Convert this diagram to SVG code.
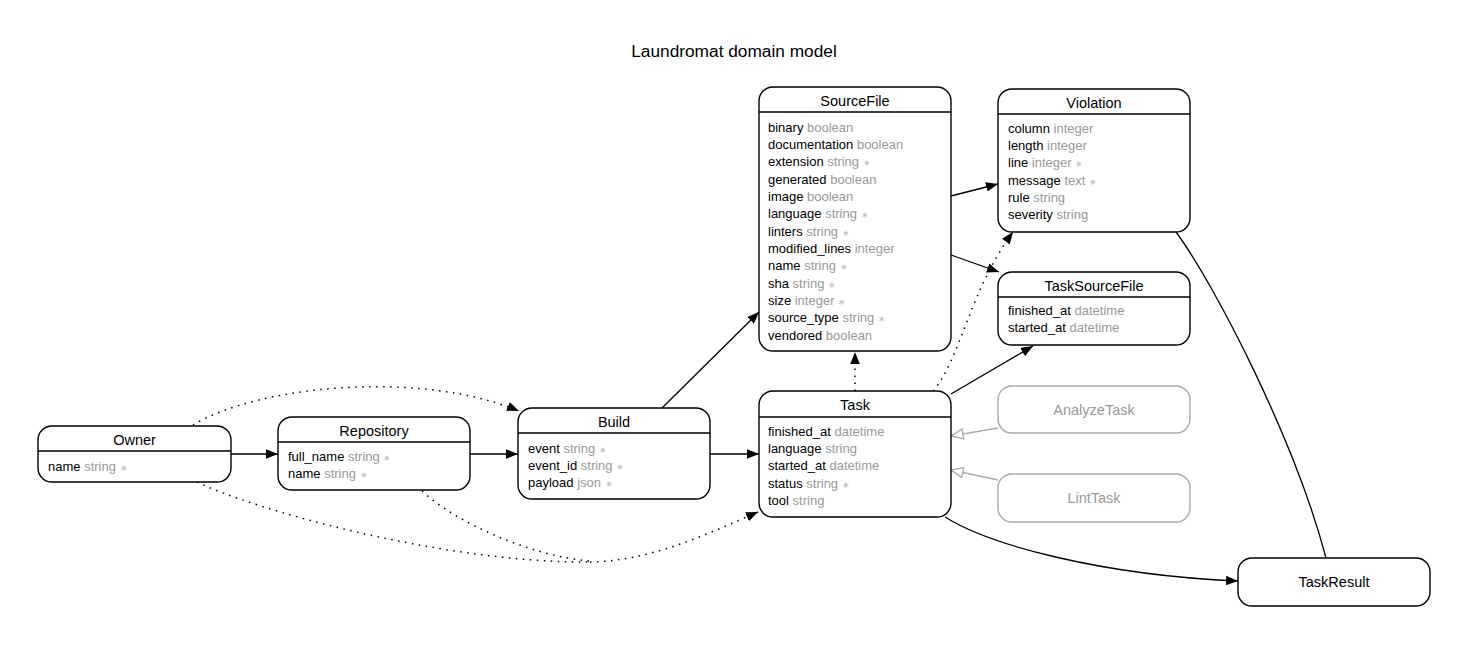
<svg xmlns="http://www.w3.org/2000/svg" width="1469" height="645" viewBox="0 0 1469 645">
<style>
text{font-family:"Liberation Sans",Arial,sans-serif;}
.box{fill:#fff;stroke:#000;stroke-width:1.4;}
.gbox{fill:#fff;stroke:#aaa;stroke-width:1.4;}
.sep{stroke:#000;stroke-width:1.4;}
.title{font-size:14.5px;fill:#000;text-anchor:middle;}
.gtitle{font-size:14.5px;fill:#999;text-anchor:middle;}
.attr{font-size:13px;fill:#000;}
.t{fill:#999;}
.m{fill:#bbb;font-size:8.5px;}
.e{fill:none;stroke:#000;stroke-width:1.3;}
.d{fill:none;stroke:#000;stroke-width:1.5;stroke-dasharray:1.5,5.5;}
.g{fill:none;stroke:#aaa;stroke-width:1.3;}
</style>
<defs>
<marker id="ah" markerUnits="userSpaceOnUse" markerWidth="13" markerHeight="11" refX="12" refY="5" orient="auto">
<path d="M0,0.2 L12,5 L0,9.8 z" fill="#000"/>
</marker>
<marker id="hh" markerUnits="userSpaceOnUse" markerWidth="15" markerHeight="12" refX="13" refY="6" orient="auto">
<path d="M1,1 L13,6 L1,11 z" fill="#fff" stroke="#aaa" stroke-width="1.3"/>
</marker>
</defs>
<rect width="1469" height="645" fill="#fff"/>
<text x="734" y="57" style="font-size:17.3px;text-anchor:middle;fill:#000">Laundromat domain model</text>

<g id="connectors">
<path class="e" d="M231,454 L278,454" marker-end="url(#ah)"/>
<path class="e" d="M470,454 L518,454" marker-end="url(#ah)"/>
<path class="e" d="M710,454 L759,454" marker-end="url(#ah)"/>
<path class="e" d="M662,408 L759,312" marker-end="url(#ah)"/>
<path class="e" d="M951,196 L998,184" marker-end="url(#ah)"/>
<path class="e" d="M951,255 L999,272" marker-end="url(#ah)"/>
<path class="e" d="M951,394 L1033,346" marker-end="url(#ah)"/>
<path class="d" d="M855,391 L855,352" marker-end="url(#ah)"/>
<path class="d" d="M933,391 C960,360 970,290 1013,232" marker-end="url(#ah)"/>
<path class="g" d="M998,428 L951,436" marker-end="url(#hh)"/>
<path class="g" d="M998,480 L951,470" marker-end="url(#hh)"/>
<path class="e" d="M945,517 C990,545 1100,575 1238,581" marker-end="url(#ah)"/>
<path class="e" d="M1176,232 C1215,285 1295,440 1326,558"/>
<path class="d" d="M193,425 C260,385 420,370 519,411" marker-end="url(#ah)"/>
<path class="d" d="M197,482 C250,508 440,563 590,562"/>
<path class="d" d="M422,491 C455,522 530,556 590,561"/>
<path class="d" d="M590,562 C650,561 705,535 758,512" marker-end="url(#ah)"/>
</g>

<g id="Owner">
<rect class="box" x="38" y="426" width="193" height="56" rx="14"/>
<line class="sep" x1="38" y1="451" x2="231" y2="451"/>
<text class="title" x="134.5" y="445">Owner</text>
<text class="attr" x="48" y="470.5">name <tspan class="t">string</tspan> <tspan class="m">∗</tspan></text>
</g>

<g id="Repository">
<rect class="box" x="278" y="417" width="192" height="73" rx="14"/>
<line class="sep" x1="278" y1="442" x2="470" y2="442"/>
<text class="title" x="374" y="436">Repository</text>
<text class="attr" x="288" y="460.5">full_name <tspan class="t">string</tspan> <tspan class="m">∗</tspan></text>
<text class="attr" x="288" y="478">name <tspan class="t">string</tspan> <tspan class="m">∗</tspan></text>
</g>

<g id="Build">
<rect class="box" x="518" y="408" width="192" height="91" rx="14"/>
<line class="sep" x1="518" y1="433" x2="710" y2="433"/>
<text class="title" x="614" y="427">Build</text>
<text class="attr" x="528" y="452.5">event <tspan class="t">string</tspan> <tspan class="m">∗</tspan></text>
<text class="attr" x="528" y="470">event_id <tspan class="t">string</tspan> <tspan class="m">∗</tspan></text>
<text class="attr" x="528" y="487">payload <tspan class="t">json</tspan> <tspan class="m">∗</tspan></text>
</g>

<g id="Task">
<rect class="box" x="759" y="391" width="192" height="126" rx="14"/>
<line class="sep" x1="759" y1="417" x2="951" y2="417"/>
<text class="title" x="855" y="410">Task</text>
<text class="attr" x="768" y="435.5">finished_at <tspan class="t">datetime</tspan></text>
<text class="attr" x="768" y="452.8">language <tspan class="t">string</tspan></text>
<text class="attr" x="768" y="470.2">started_at <tspan class="t">datetime</tspan></text>
<text class="attr" x="768" y="487.5">status <tspan class="t">string</tspan> <tspan class="m">∗</tspan></text>
<text class="attr" x="768" y="504.8">tool <tspan class="t">string</tspan></text>
</g>

<g id="SourceFile">
<rect class="box" x="759" y="87" width="192" height="264" rx="14"/>
<line class="sep" x1="759" y1="112" x2="951" y2="112"/>
<text class="title" x="855" y="106">SourceFile</text>
<text class="attr" x="768" y="131.5">binary <tspan class="t">boolean</tspan></text>
<text class="attr" x="768" y="148.8">documentation <tspan class="t">boolean</tspan></text>
<text class="attr" x="768" y="166.2">extension <tspan class="t">string</tspan> <tspan class="m">∗</tspan></text>
<text class="attr" x="768" y="183.5">generated <tspan class="t">boolean</tspan></text>
<text class="attr" x="768" y="200.8">image <tspan class="t">boolean</tspan></text>
<text class="attr" x="768" y="218.2">language <tspan class="t">string</tspan> <tspan class="m">∗</tspan></text>
<text class="attr" x="768" y="235.5">linters <tspan class="t">string</tspan> <tspan class="m">∗</tspan></text>
<text class="attr" x="768" y="252.8">modified_lines <tspan class="t">integer</tspan></text>
<text class="attr" x="768" y="270.2">name <tspan class="t">string</tspan> <tspan class="m">∗</tspan></text>
<text class="attr" x="768" y="287.5">sha <tspan class="t">string</tspan> <tspan class="m">∗</tspan></text>
<text class="attr" x="768" y="304.8">size <tspan class="t">integer</tspan> <tspan class="m">∗</tspan></text>
<text class="attr" x="768" y="322.2">source_type <tspan class="t">string</tspan> <tspan class="m">∗</tspan></text>
<text class="attr" x="768" y="339.5">vendored <tspan class="t">boolean</tspan></text>
</g>

<g id="Violation">
<rect class="box" x="998" y="89" width="192" height="143" rx="14"/>
<line class="sep" x1="998" y1="114" x2="1190" y2="114"/>
<text class="title" x="1094" y="108">Violation</text>
<text class="attr" x="1008" y="132.5">column <tspan class="t">integer</tspan></text>
<text class="attr" x="1008" y="149.8">length <tspan class="t">integer</tspan></text>
<text class="attr" x="1008" y="167.2">line <tspan class="t">integer</tspan> <tspan class="m">∗</tspan></text>
<text class="attr" x="1008" y="184.5">message <tspan class="t">text</tspan> <tspan class="m">∗</tspan></text>
<text class="attr" x="1008" y="201.8">rule <tspan class="t">string</tspan></text>
<text class="attr" x="1008" y="219.2">severity <tspan class="t">string</tspan></text>
</g>

<g id="TaskSourceFile">
<rect class="box" x="998" y="272" width="192" height="73" rx="14"/>
<line class="sep" x1="998" y1="297" x2="1190" y2="297"/>
<text class="title" x="1094" y="291">TaskSourceFile</text>
<text class="attr" x="1008" y="314.5">finished_at <tspan class="t">datetime</tspan></text>
<text class="attr" x="1008" y="331.8">started_at <tspan class="t">datetime</tspan></text>
</g>

<g id="AnalyzeTask">
<rect class="gbox" x="998" y="386" width="192" height="47" rx="14"/>
<text class="gtitle" x="1094" y="415">AnalyzeTask</text>
</g>

<g id="LintTask">
<rect class="gbox" x="998" y="474" width="192" height="48" rx="14"/>
<text class="gtitle" x="1094" y="503">LintTask</text>
</g>

<g id="TaskResult">
<rect class="box" x="1238" y="558" width="192" height="48" rx="14"/>
<text class="title" x="1334" y="587">TaskResult</text>
</g>
</svg>
